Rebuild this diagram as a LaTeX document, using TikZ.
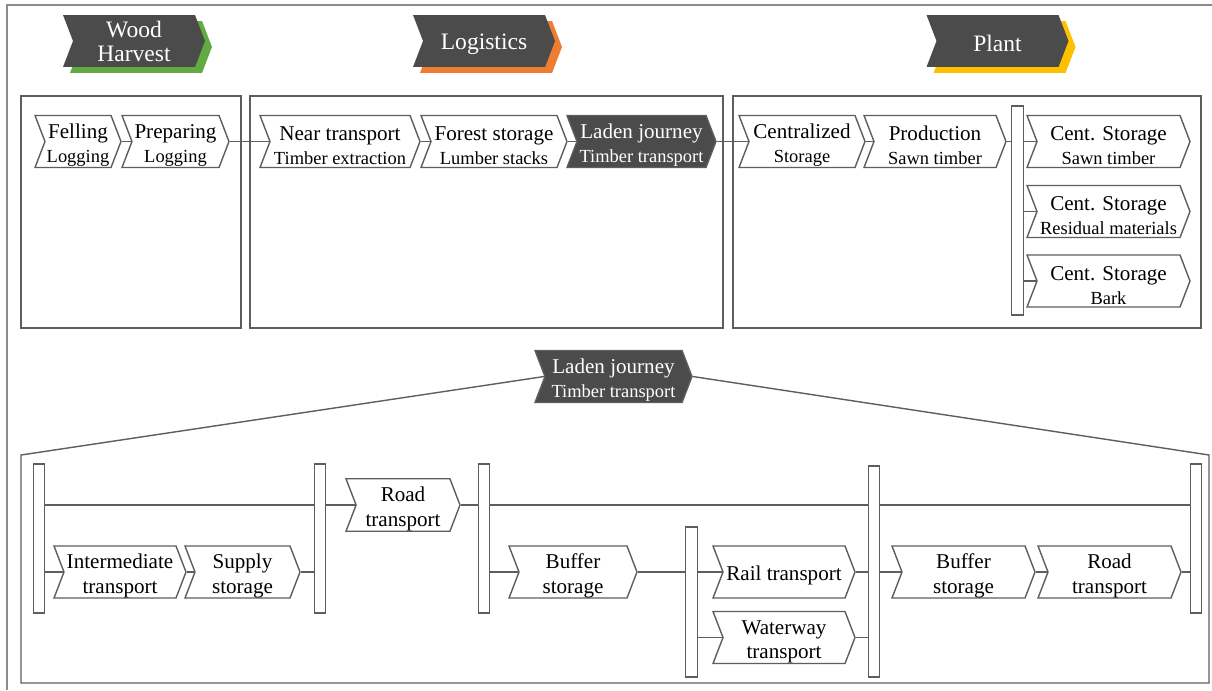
\documentclass[tikz,border=0pt]{standalone}
\usepackage{fontspec}
\setmainfont{Liberation Serif}
\usetikzlibrary{shapes.symbols,shadows}

\definecolor{chevdark}{HTML}{4B4B4B}
\definecolor{lineclr}{HTML}{5E5E5E}
\definecolor{frameclr}{HTML}{8C8C8C}
\definecolor{harvgreen}{HTML}{62AB40}
\definecolor{logorange}{HTML}{ED7D31}
\definecolor{plantgold}{HTML}{FFC000}

% first line raised box, second line smaller
\newcommand{\chevtext}[2]{\rule{0pt}{12.8pt}#1\\{\fontsize{10.5}{12}\selectfont #2}}
\newcommand{\chevpair}[2]{\rule{0pt}{12.8pt}#1\\#2}

\tikzset{
	chev/.style={signal, signal from=west, signal to=east, signal pointer angle=138,
		draw=lineclr, line width=0.8pt, fill=white, inner sep=0pt, minimum height=1.04cm,
		align=center, font=\fontsize{12}{13.6}\selectfont,
		execute at begin node=\rule{0pt}{12.6pt}},
	darkchev/.style={chev, fill=chevdark, text=white},
	header/.style={darkchev, draw=none, minimum width=2.84cm, font=\fontsize{13.4}{13.6}\selectfont,
		execute at begin node={\rule{0pt}{10.5pt}},
		general shadow={fill=#1, shadow xshift=0.14cm, shadow yshift=-0.12cm}},
	bar/.style={draw=lineclr, line width=0.8pt, fill=white, inner sep=0pt, minimum width=0.23cm},
	link/.style={draw=lineclr, line width=0.8pt},
}

\begin{document}
\begin{tikzpicture}[x=0.02cm, y=-0.02cm]
	\useasboundingbox (0,0) rectangle (1212,690);
	
	% frame
	\draw[frameclr, line width=1pt] (1212,5) -- (7,5) -- (7,690);
	
	% headers
	\node[header=harvgreen] (hdwood) at (134,41) {Wood\\Harvest};
	\node[header=logorange] (hdlog) at (484,41) {Logistics};
	\node[header=plantgold] (hdplant) at (997.5,41) {Plant};
	
	% boxes
	\draw[link] (21,96) rectangle (241,328);
	\draw[link] (250,96) rectangle (723,328);
	\draw[link] (733,96) rectangle (1201,328);
	
	% top row
	\node[chev, minimum width=1.72cm] (fell) at (78,141.5) {\chevtext{Felling}{Logging}};
	\node[chev, minimum width=2.14cm] (prep) at (175.5,141.5) {\chevtext{Preparing}{Logging}};
	\node[chev, minimum width=3.2cm] (near) at (340,141.5) {\chevtext{Near transport}{Timber extraction}};
	\node[chev, minimum width=2.92cm] (forest) at (494,141.5) {\chevtext{Forest storage}{Lumber stacks}};
	\node[darkchev, minimum width=2.98cm] (laden) at (641.5,141.5) {\chevtext{Laden journey}{Timber transport}};
	\node[chev, minimum width=2.52cm] (cent) at (802,141.5) {\chevtext{Centralized}{Storage}};
	\node[chev, minimum width=2.84cm] (prod) at (935,141.5) {\chevtext{Production}{Sawn timber}};
	\node[bar, minimum height=4.18cm] (bartop) at (1017.5,210.5) {};
	\node[chev, minimum width=3.26cm] (cssawn) at (1108.5,141.5) {\chevtext{Cent. Storage}{Sawn timber}};
	\node[chev, minimum width=3.26cm] (csres) at (1108.5,211.5) {\chevtext{Cent. Storage}{Residual materials}};
	\node[chev, minimum width=3.26cm] (csbark) at (1108.5,281) {\chevtext{Cent. Storage}{Bark}};
	
	\draw[link] (fell.east) -- (prep.west);
	\draw[link] (prep.east) -- (near.west);
	\draw[link] (near.east) -- (forest.west);
	\draw[link] (forest.east) -- (laden.west);
	\draw[link] (laden.east) -- (cent.west);
	\draw[link] (cent.east) -- (prod.west);
	\draw[link] (prod.east) -- (prod.east -| bartop.west);
	\draw[link] (bartop.east |- cssawn.west) -- (cssawn.west);
	\draw[link] (bartop.east |- csres.west) -- (csres.west);
	\draw[link] (bartop.east |- csbark.west) -- (csbark.west);
	
	% zoom of laden journey
	\node[darkchev, minimum width=3.14cm] (ladenbig) at (613.5,376.5) {\chevtext{Laden journey}{Timber transport}};
	\coordinate (zoomL) at (21,455);
	\coordinate (zoomR) at (1209,455);
	\draw[link] (ladenbig.west) -- (zoomL) -- (21,683) -- (1209,683) -- (zoomR) -- (ladenbig.east);
	
	% bars
	\node[bar, minimum height=2.98cm] (barA) at (39,538.5) {};
	\node[bar, minimum height=2.98cm] (barB) at (320,538.5) {};
	\node[bar, minimum height=2.98cm] (barC) at (484,538.5) {};
	\node[bar, minimum height=3cm] (barD) at (691.5,602) {};
	\node[bar, minimum height=4.22cm] (barE) at (874,571.5) {};
	\node[bar, minimum height=2.98cm] (barF) at (1196,538.5) {};
	
	% lower chain
	\node[chev, minimum width=2.28cm, font=\fontsize{12}{14.5}\selectfont] (road) at (403,505) {\chevpair{Road}{transport}};
	\node[chev, minimum width=2.64cm, font=\fontsize{12}{13.8}\selectfont] (inter) at (120,572) {\chevpair{Intermediate}{transport}};
	\node[chev, minimum width=2.3cm, font=\fontsize{12}{13.8}\selectfont] (supply) at (242.5,572) {\chevpair{Supply}{storage}};
	\node[chev, minimum width=2.56cm, font=\fontsize{12}{13.8}\selectfont] (bufA) at (573,572) {\chevpair{Buffer}{storage}};
	\node[chev, minimum width=2.84cm] (rail) at (784,572) {Rail transport};
	\node[chev, minimum width=2.84cm, font=\fontsize{12}{13.8}\selectfont] (water) at (784,637.5) {\chevpair{Waterway}{transport}};
	\node[chev, minimum width=2.86cm, font=\fontsize{12}{13.8}\selectfont] (bufB) at (963.5,572) {\chevpair{Buffer}{storage}};
	\node[chev, minimum width=2.86cm, font=\fontsize{12}{13.8}\selectfont] (roadB) at (1109.5,572) {\chevpair{Road}{transport}};
	
	\draw[link] (barA.east |- road.west) -- (barB.west |- road.west);
	\draw[link] (barB.east |- road.west) -- (road.west);
	\draw[link] (road.east) -- (barC.west |- road.east);
	\draw[link] (barC.east |- road.east) -- (barE.west |- road.east);
	\draw[link] (barE.east |- road.east) -- (barF.west |- road.east);
	
	\draw[link] (barA.east |- inter.west) -- (inter.west);
	\draw[link] (inter.east) -- (supply.west);
	\draw[link] (supply.east) -- (barB.west |- supply.east);
	\draw[link] (barC.east |- bufA.west) -- (bufA.west);
	\draw[link] (bufA.east) -- (barD.west |- bufA.east);
	\draw[link] (barD.east |- rail.west) -- (rail.west);
	\draw[link] (barD.east |- water.west) -- (water.west);
	\draw[link] (rail.east) -- (barE.west |- rail.east);
	\draw[link] (water.east) -- (barE.west |- water.east);
	\draw[link] (barE.east |- bufB.west) -- (bufB.west);
	\draw[link] (bufB.east) -- (roadB.west);
	\draw[link] (roadB.east) -- (barF.west |- roadB.east);
\end{tikzpicture}
\end{document}
